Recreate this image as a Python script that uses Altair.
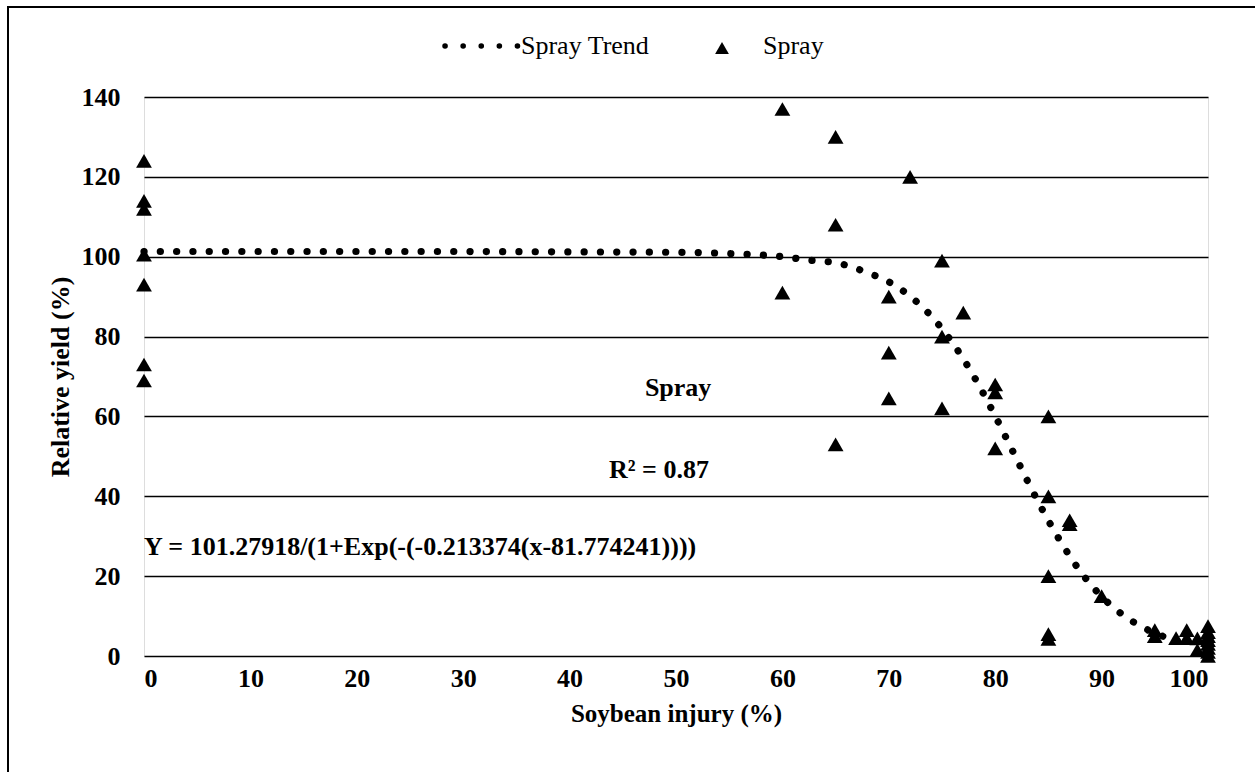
import altair as alt
import pandas as pd

# Scatter data (Soybean injury %, Relative yield %)
spray_x = [0, 0, 0, 0, 0, 0, 0,
           60, 60, 65, 65, 65, 70, 70, 70, 72, 75, 75, 75, 77, 80, 80, 80,
           85, 85, 85, 85, 85, 87, 87, 90, 95, 95, 97, 98, 98, 99, 99,
           100, 100, 100, 100, 100, 100, 100, 100]
spray_y = [124, 114, 112, 100.5, 93, 73, 69,
           137, 91, 130, 108, 53, 90, 76, 64.5, 120, 99, 80, 62, 86, 68, 66, 52,
           60, 40, 20, 5.5, 4.3, 34, 33, 15, 6.5, 5, 4.5, 6.5, 4.5, 4.4, 1.5,
           7.5, 6, 5, 4, 3, 2, 1, 0]

# Trend curve
trend_x = [0, 10, 20, 30, 40, 50, 55, 60, 63, 65, 68, 70, 72, 74, 76, 78, 80,
           82, 84, 86, 88, 90, 92, 94, 96, 97]
trend_y = [101.3, 101.3, 101.3, 101.3, 101.2, 101.1, 100.8, 100.0, 99.0, 98.5,
           96.0, 93.7, 90.1, 85.1, 78.4, 70.0, 60.1, 49.4, 38.8, 29.3, 21.2,
           14.9, 10.3, 7.0, 4.7, 3.8]

x_ticks = [0, 10, 20, 30, 40, 50, 60, 70, 80, 90, 100]
y_ticks = [0, 20, 40, 60, 80, 100, 120, 140]

# Text annotations inside the plot
ann_text = ["Spray", "R\u00b2 = 0.87"]
ann_x = [50.2, 48.4]
ann_y = [65.1, 44.6]
eq_text = ["Y = 101.27918/(1+Exp(-(-0.213374(x-81.774241))))"]
eq_x = [0]
eq_y = [25.4]

FONT = "Liberation Serif"
FS = 26

pts = pd.DataFrame({"x": spray_x, "y": spray_y})
trend = pd.DataFrame({"x": trend_x, "y": trend_y})

xscale = alt.Scale(domain=[0, 100], nice=False, zero=False)
yscale = alt.Scale(domain=[0, 140], nice=False)

xaxis = alt.Axis(values=x_ticks, grid=False, domain=False, ticks=False,
                 labelFont=FONT, labelFontSize=FS, labelFontWeight="bold",
                 labelColor="black", labelPadding=9,
                 title="Soybean injury (%)", titleFont=FONT, titleFontSize=25,
                 titleFontWeight="bold", titleColor="black", titlePadding=10)
yaxis = alt.Axis(values=y_ticks, grid=True, gridColor="black", gridWidth=1.6,
                 gridOpacity=1, domain=False, ticks=False,
                 labelFont=FONT, labelFontSize=FS, labelFontWeight="bold",
                 labelColor="black", labelPadding=24,
                 title="Relative yield (%)", titleFont=FONT, titleFontSize=FS,
                 titleFontWeight="bold", titleColor="black", titlePadding=8)

line = alt.Chart(trend).mark_line(
    color="black", strokeWidth=7.2, strokeDash=[0.1, 16.2], strokeCap="round",
    interpolate="monotone"
).encode(
    x=alt.X("x:Q", scale=xscale, axis=xaxis),
    y=alt.Y("y:Q", scale=yscale, axis=yaxis),
)

points = alt.Chart(pts).mark_point(
    shape="triangle-up", filled=True, color="black", size=250, opacity=1
).encode(
    x=alt.X("x:Q", scale=xscale),
    y=alt.Y("y:Q", scale=yscale),
)

ann = pd.DataFrame({"x": ann_x, "y": ann_y, "t": ann_text})
eq = pd.DataFrame({"x": eq_x, "y": eq_y, "t": eq_text})
ann_c = alt.Chart(ann).mark_text(
    font=FONT, fontSize=FS, fontWeight="bold", color="black", align="center",
    baseline="alphabetic"
).encode(x=alt.X("x:Q", scale=xscale), y=alt.Y("y:Q", scale=yscale), text="t:N")
ann_l = alt.Chart(eq).mark_text(
    font=FONT, fontSize=FS, fontWeight="bold", color="black", align="left",
    baseline="alphabetic"
).encode(x=alt.X("x:Q", scale=xscale), y=alt.Y("y:Q", scale=yscale), text="t:N")

# Legend (drawn above the plot area)
one = pd.DataFrame({"k": [0]})
leg_line = alt.Chart(one).mark_rule(
    color="black", strokeWidth=5.5, strokeDash=[0.1, 18.0], strokeCap="round"
).encode(x=alt.value(445 - 144), x2=alt.value(518 - 144), y=alt.value(46 - 97))
leg_tri = alt.Chart(one).mark_point(
    shape="triangle-up", filled=True, color="black", size=190, opacity=1
).encode(x=alt.value(722 - 144), y=alt.value(48 - 97))
leg_txt1 = alt.Chart(one).mark_text(
    text="Spray Trend", font=FONT, fontSize=FS, color="black", align="left",
    baseline="alphabetic"
).encode(x=alt.value(521 - 144), y=alt.value(54 - 97))
leg_txt2 = alt.Chart(one).mark_text(
    text="Spray", font=FONT, fontSize=FS, color="black", align="left",
    baseline="alphabetic"
).encode(x=alt.value(763 - 144), y=alt.value(54 - 97))

border = alt.Chart(one).mark_rect(
    fill=None, stroke="black", strokeWidth=2
).encode(x=alt.value(8 - 144), x2=alt.value(1300), y=alt.value(7 - 97), y2=alt.value(800))

chart = alt.layer(
    border, line, points, ann_c, ann_l, leg_line, leg_tri, leg_txt1, leg_txt2
).properties(
    width=1064, height=559,
    autosize=alt.AutoSizeParams(type="none"),
    padding={"left": 144, "top": 97, "right": 47, "bottom": 116},
).configure_view(stroke=None).configure(background="white")

chart.save("out.html", embed_options={"renderer": "svg", "actions": False})
